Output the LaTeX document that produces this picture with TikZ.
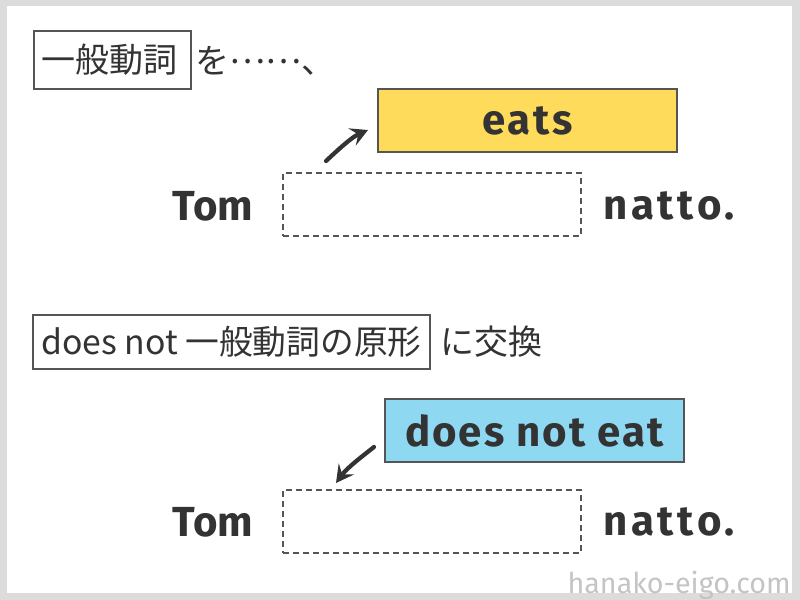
\documentclass[tikz,border=0pt]{standalone}
\usepackage{fontspec}
\setmainfont{Fira Sans}
\newfontfamily\jp{Noto Sans CJK JP}
\newfontfamily\wm{Fira Sans}
\usetikzlibrary{arrows.meta}
\definecolor{ink}{HTML}{333333}
\definecolor{edge}{HTML}{555555}
\definecolor{frame}{HTML}{DCDCDC}
\definecolor{yel}{HTML}{FFDB5C}
\definecolor{sky}{HTML}{8ED8F2}
\definecolor{mark}{HTML}{C4C4C4}
\tikzset{
  jpbox/.style={draw=edge, line width=1pt, fill=white, text=ink, font=\jp\fontsize{25.5pt}{30pt}\selectfont},
  jptext/.style={text=ink, font=\jp\fontsize{25.5pt}{30pt}\selectfont, inner sep=0pt},
  wordbox/.style={draw=edge, line width=1.8pt, minimum width=224.25pt, minimum height=47.25pt, text=ink, font=\bfseries\fontsize{31.5pt}{36pt}\selectfont},
  slotbox/.style={draw=edge, line width=1.5pt, dash pattern=on 4.5pt off 3pt, minimum width=223.5pt, minimum height=47.25pt},
  word/.style={text=ink, font=\bfseries\fontsize{31.5pt}{36pt}\selectfont, inner sep=0pt},
  hand/.style={draw=ink, line width=3.2pt, line cap=round, -{Stealth[length=13pt, width=14pt, inset=5pt]}}
}
\begin{document}
\begin{tikzpicture}[x=0.75pt, y=-0.75pt]
\fill[frame] (0,0) rectangle (800,600);
\fill[white] (7,6) rectangle (792,593);
\useasboundingbox (0,0) rectangle (800,600);

% top section
\node[jpbox, minimum width=117.75pt, minimum height=43.5pt, text width=107.25pt, inner xsep=5.25pt, align=left] (b1) at (112.5,60) {一般動詞};
\node[jptext, anchor=west] (t1) at (195,61) {を\raisebox{0.3em}{……}、};
\node[wordbox, fill=yel, font=\bfseries\fontsize{31.5pt}{36pt}\selectfont\addfontfeature{LetterSpace=6}] (eats) at (527.5,120.5) {eats};
\node[slotbox] (s1) at (432,204.5) {};
\node[word] (tom1) at (213,206) {Tom};
\node[word, font=\bfseries\fontsize{31.5pt}{36pt}\selectfont\addfontfeature{LetterSpace=9}] (natto1) at (669,206) {natto.};
\coordinate (a1) at (326,161);
\coordinate (h1) at (368,130);
\draw[hand] (a1) .. controls (340,148) and (352,137) .. (h1);

% bottom section
\node[jpbox, minimum width=297.75pt, minimum height=40.5pt, inner xsep=3pt, font=\jp\fontsize{25.3pt}{30pt}\selectfont] (b2) at (231.5,342) {does not 一般動詞の原形};
\node[jptext, anchor=west] (t2) at (440,342) {に交換};
\node[wordbox, fill=sky, font=\bfseries\fontsize{31.5pt}{36pt}\selectfont\addfontfeature{LetterSpace=5}] (dne) at (534.5,430.5) {does not eat};
\node[slotbox] (s2) at (432,521.5) {};
\node[word] (tom2) at (213,522) {Tom};
\node[word, font=\bfseries\fontsize{31.5pt}{36pt}\selectfont\addfontfeature{LetterSpace=9}] (natto2) at (669,522) {natto.};
\coordinate (a2) at (374,447);
\coordinate (h2) at (336,483);
\draw[hand] (a2) .. controls (360,458) and (347,468) .. (h2);

% watermark
\node[text=mark, font=\wm\fontsize{21.5pt}{26pt}\selectfont, inner sep=0pt, anchor=base east] (wm) at (791,593) {hanako-eigo.com};
\end{tikzpicture}
\end{document}
